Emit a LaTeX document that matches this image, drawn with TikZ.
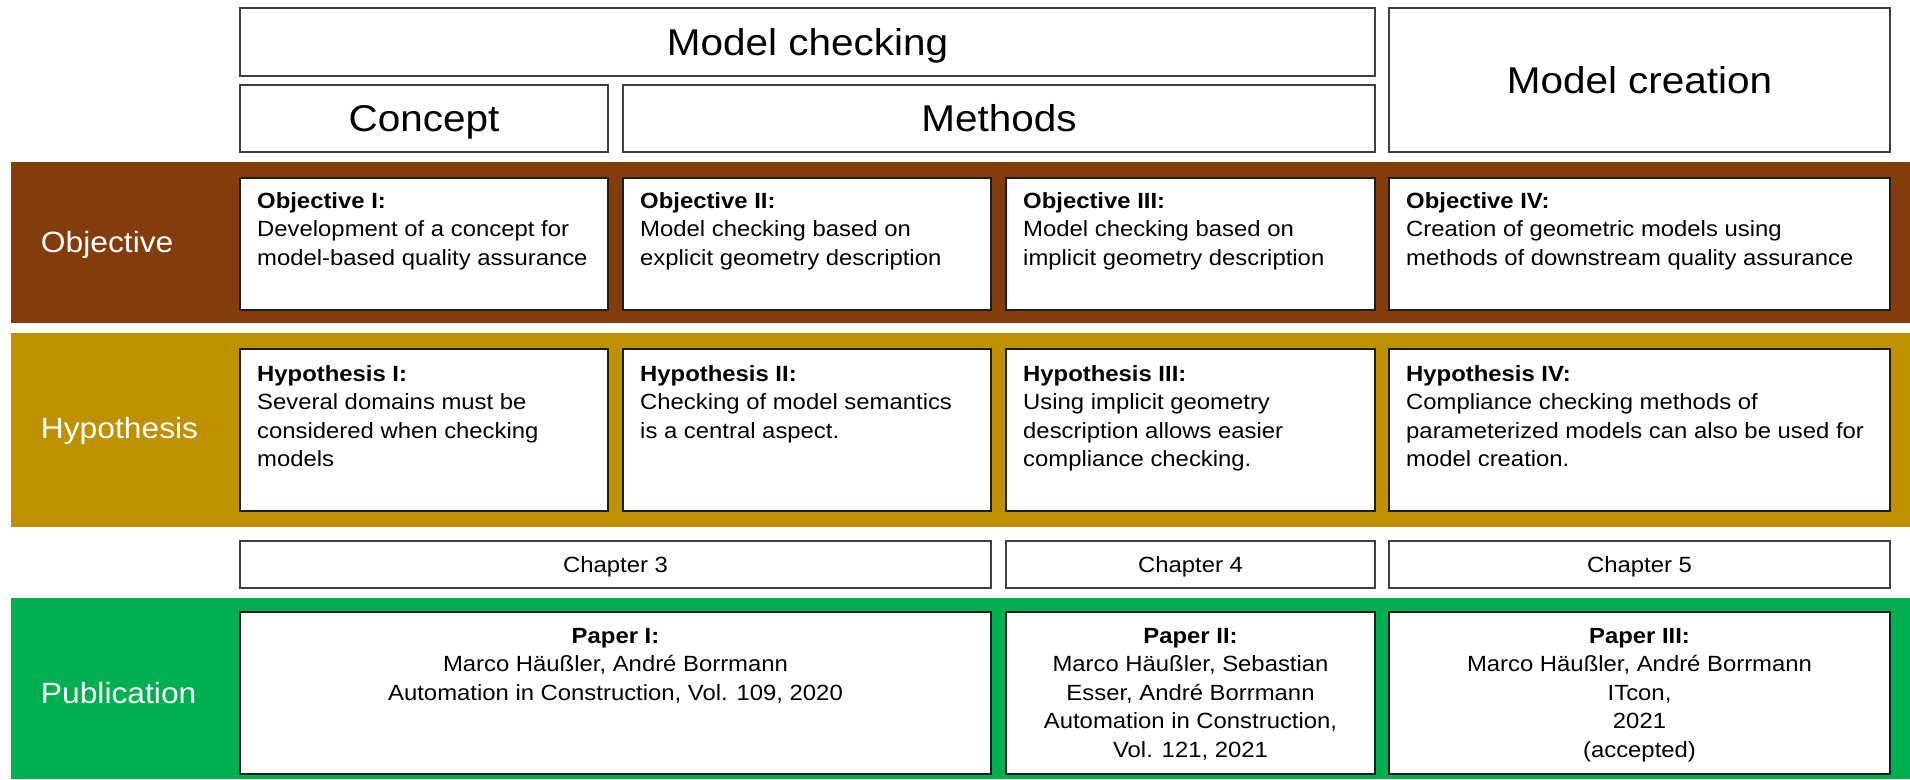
\documentclass[tikz,border=0pt]{standalone}
\usepackage{fontspec}
\setmainfont{Liberation Sans}[FakeStretch=1.085]
\definecolor{objband}{HTML}{843C0C}
\definecolor{hypband}{HTML}{BF9000}
\definecolor{pubband}{HTML}{00B050}
\definecolor{edge}{HTML}{1E1E1E}

% rectangle node spanning (x1,y1)-(x2,y2): name, x1, y1, x2, y2, style, text
\newcommand\spanbox[7]{%
  \node[#6, minimum width={(#4)-(#2)}, minimum height={(#5)-(#3)}]
    (#1) at ({((#2)+(#4))/2},{((#3)+(#5))/2}) {#7};}

\tikzset{
  band/.style={fill=#1, draw=none, inner sep=0pt, outer sep=0pt},
  cell/.style={draw=edge, line width=1.8pt, fill=white, inner sep=0pt, outer sep=0pt},
  headcell/.style={cell, draw=edge!85, font=\fontsize{37.3}{44}\selectfont,
    text height=26.7pt, text depth=0pt},
  chapcell/.style={cell, draw=edge!85, font=\fontsize{22}{28.3}\selectfont,
    text height=15.75pt, text depth=0pt},
  rowlabel/.style={anchor=base west, inner sep=0pt, text=white,
    font=\fontsize{29.3}{35}\selectfont},
  celltext/.style={anchor=north west, inner sep=0pt, align=left,
    font=\fontsize{22}{28.3}\selectfont},
  papertext/.style={anchor=north, inner sep=0pt, align=center,
    font=\fontsize{22}{28.5}\selectfont},
}

\begin{document}
\begin{tikzpicture}[x=1pt,y=-1pt]
\useasboundingbox (0,0) rectangle (1910,779);

% coloured row bands
\spanbox{objrow}{11}{162}{1910}{323}{band=objband}{}
\spanbox{hyprow}{11}{333}{1910}{527}{band=hypband}{}
\spanbox{pubrow}{11}{598}{1910}{779}{band=pubband}{}

% row labels
\node[rowlabel] (lobj) at (40.7,252.7) {Objective};
\node[rowlabel] (lhyp) at (40.7,438.5) {Hypothesis};
\node[rowlabel] (lpub) at (40.7,703.3) {Publication};

% column headers
\spanbox{mcheck}{240}{8}{1375}{76}{headcell}{Model checking}
\spanbox{concept}{240}{85}{608}{152}{headcell}{Concept}
\spanbox{methods}{623}{85}{1375}{152}{headcell}{Methods}
\spanbox{mcreate}{1389}{8}{1890}{152}{headcell}{Model creation}

% objectives
\spanbox{oa}{240}{178}{608}{310}{cell}{}
\spanbox{ob}{623}{178}{991}{310}{cell}{}
\spanbox{oc}{1006}{178}{1375}{310}{cell}{}
\spanbox{od}{1389}{178}{1890}{310}{cell}{}
\node[celltext] (toa) at ([xshift=17pt,yshift=-10.5pt]oa.north west)
  {\strut\textbf{Objective I:}\\\strut Development of a concept for\\\strut model-based quality assurance};
\node[celltext] (tob) at ([xshift=17pt,yshift=-10.5pt]ob.north west)
  {\strut\textbf{Objective II:}\\\strut Model checking based on\\\strut explicit geometry description};
\node[celltext] (toc) at ([xshift=17pt,yshift=-10.5pt]oc.north west)
  {\strut\textbf{Objective III:}\\\strut Model checking based on\\\strut implicit geometry description};
\node[celltext] (tod) at ([xshift=17pt,yshift=-10.5pt]od.north west)
  {\strut\textbf{Objective IV:}\\\strut Creation of geometric models using\\\strut methods of downstream quality assurance};

% hypotheses
\spanbox{ha}{240}{349}{608}{511}{cell}{}
\spanbox{hb}{623}{349}{991}{511}{cell}{}
\spanbox{hc}{1006}{349}{1375}{511}{cell}{}
\spanbox{hd}{1389}{349}{1890}{511}{cell}{}
\node[celltext] (tha) at ([xshift=17pt,yshift=-12.5pt]ha.north west)
  {\strut\textbf{Hypothesis I:}\\\strut Several domains must be\\\strut considered when checking\\\strut models};
\node[celltext] (thb) at ([xshift=17pt,yshift=-12.5pt]hb.north west)
  {\strut\textbf{Hypothesis II:}\\\strut Checking of model semantics\\\strut is a central aspect.};
\node[celltext] (thc) at ([xshift=17pt,yshift=-12.5pt]hc.north west)
  {\strut\textbf{Hypothesis III:}\\\strut Using implicit geometry\\\strut description allows easier\\\strut compliance checking.};
\node[celltext] (thd) at ([xshift=17pt,yshift=-12.5pt]hd.north west)
  {\strut\textbf{Hypothesis IV:}\\\strut Compliance checking methods of\\\strut parameterized models can also be used for\\\strut model creation.};

% chapters
\spanbox{ch3}{240}{541}{991}{588}{chapcell}{Chapter 3}
\spanbox{ch4}{1006}{541}{1375}{588}{chapcell}{Chapter 4}
\spanbox{ch5}{1389}{541}{1890}{588}{chapcell}{Chapter 5}

% publications
\spanbox{pa}{240}{612}{991}{774}{cell}{}
\spanbox{pb}{1006}{612}{1375}{774}{cell}{}
\spanbox{pc}{1389}{612}{1890}{774}{cell}{}
\node[papertext] (tpa) at ([yshift=-11pt]pa.north)
  {\strut\textbf{Paper I:}\\\strut Marco Häußler, André Borrmann\\\strut Automation in Construction, Vol. 109, 2020};
\node[papertext] (tpb) at ([yshift=-11pt]pb.north)
  {\strut\textbf{Paper II:}\\\strut Marco Häußler, Sebastian\\\strut Esser, André Borrmann\\\strut Automation in Construction,\\\strut Vol. 121, 2021};
\node[papertext] (tpc) at ([yshift=-11pt]pc.north)
  {\strut\textbf{Paper III:}\\\strut Marco Häußler, André Borrmann\\\strut ITcon,\\\strut 2021\\\strut (accepted)};
\end{tikzpicture}
\end{document}
